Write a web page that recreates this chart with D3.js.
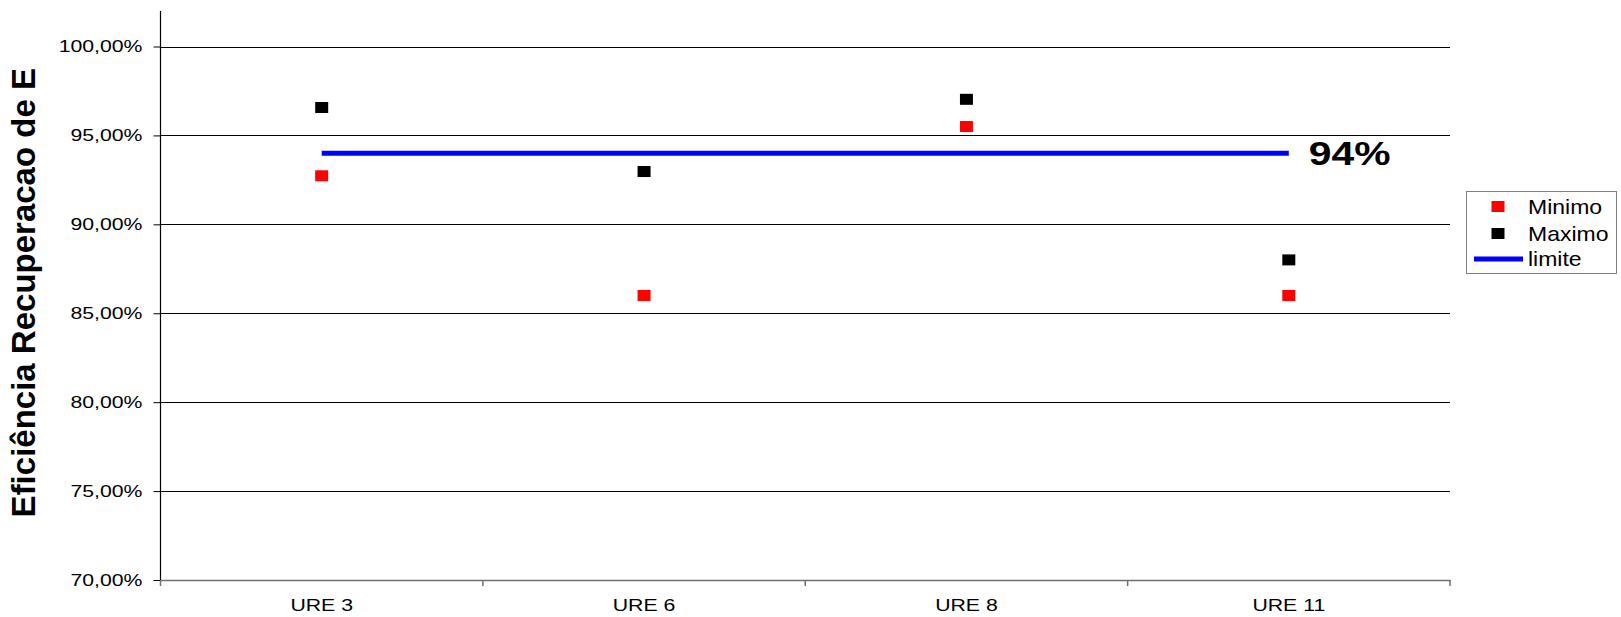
<!DOCTYPE html>
<html><head><meta charset="utf-8">
<script src="https://cdn.jsdelivr.net/npm/d3@7"></script>
<style>body{margin:0;background:#fff;} svg{display:block;font-family:"Liberation Sans",Arial,sans-serif;}</style>
</head><body>
<svg id="c" width="1621" height="617"></svg>
<script>
const categories = ["URE 3", "URE 6", "URE 8", "URE 11"];
const minimo = [0.9273, 0.86, 0.955, 0.86];
const maximo = [0.9657, 0.9297, 0.9703, 0.88];
const limite = 0.94;
const limiteLabel = "94%";
const yTicks = [0.70, 0.75, 0.80, 0.85, 0.90, 0.95, 1.00];
const seriesNames = ["Minimo", "Maximo", "limite"];

const svg = d3.select("#c");
const L = 160.5, R = 1450, T = 46.5, B = 580;
const SX = 1.25; // horizontal stretch of text seen in the reference
const x = d3.scaleBand().domain(categories).range([L, R]).padding(0);
const y = d3.scaleLinear().domain([0.70, 1.00]).range([B, T]);
const fmt = v => (v * 100).toFixed(2).replace(".", ",") + "%";
const cx = c => x(c) + x.bandwidth() / 2;

// gridlines
svg.append("g").selectAll("line").data(yTicks.filter(v => v > 0.70)).join("line")
  .attr("x1", L).attr("x2", R).attr("y1", d => Math.round(y(d)) + 0.5).attr("y2", d => Math.round(y(d)) + 0.5)
  .attr("stroke", "#000").attr("stroke-width", 1);

// y axis
const ya = svg.append("g").attr("transform", `translate(${L},0)`)
  .call(d3.axisLeft(y).tickValues(yTicks).tickFormat(fmt).tickSize(7).tickPadding(11));
ya.select(".domain").remove();
ya.selectAll("line").attr("stroke", "#000");
ya.selectAll("text").attr("font-size", 17).attr("fill", "#000")
  .attr("font-family", "Liberation Sans, Arial, sans-serif")
  .attr("x", -18 / SX).attr("transform", `scale(${SX},1)`);
svg.append("line").attr("x1", L).attr("x2", L).attr("y1", 11).attr("y2", B)
  .attr("stroke", "#000").attr("stroke-width", 1.2);

// x axis
const xa = svg.append("g").attr("transform", `translate(0,${B})`)
  .call(d3.axisBottom(x).tickSize(0));
xa.select(".domain").attr("stroke", "#707070").attr("stroke-width", 1.5);
xa.selectAll("text").attr("font-size", 17).attr("fill", "#000")
  .attr("font-family", "Liberation Sans, Arial, sans-serif")
  .attr("y", 31).attr("dy", 0).attr("transform", `scale(${SX},1)`);
const bounds = categories.map(c => x(c)).concat([R]);
svg.append("g").selectAll("line").data(bounds).join("line")
  .attr("x1", d => d).attr("x2", d => d).attr("y1", B).attr("y2", B + 6)
  .attr("stroke", "#707070").attr("stroke-width", 1.5);

// limit line
const xEnd = cx(categories[categories.length - 1]);
svg.append("line")
  .attr("x1", cx(categories[0])).attr("x2", xEnd)
  .attr("y1", y(limite)).attr("y2", y(limite))
  .attr("stroke", "#0000ff").attr("stroke-width", 5);
svg.append("text").attr("transform", `translate(${xEnd + 20},${y(limite) + 12}) scale(1.2,1)`)
  .attr("font-size", 34).attr("font-weight", "bold").attr("fill", "#000").text(limiteLabel);

// markers
const MW = 13, MH = 11;
function markers(data, color) {
  svg.append("g").selectAll("rect").data(data).join("rect")
    .attr("x", (d, i) => cx(categories[i]) - MW / 2).attr("y", d => y(d) - MH / 2)
    .attr("width", MW).attr("height", MH).attr("fill", color);
}
markers(minimo, "#ff0000");
markers(maximo, "#000000");

// y label
svg.append("text").attr("transform", "translate(35,68) rotate(-90)")
  .attr("text-anchor", "end").attr("font-size", 33).attr("font-weight", "bold").attr("fill", "#000")
  .text("Eficiência Recuperacao de E");

// legend
const lg = svg.append("g");
lg.append("rect").attr("x", 1466.5).attr("y", 191.5).attr("width", 150).attr("height", 82)
  .attr("fill", "#fff").attr("stroke", "#808080").attr("stroke-width", 1);
const ly = [206.5, 233.5, 259];
lg.append("rect").attr("x", 1498 - MW / 2).attr("y", ly[0] - MH / 2).attr("width", MW).attr("height", MH).attr("fill", "#ff0000");
lg.append("rect").attr("x", 1498 - MW / 2).attr("y", ly[1] - MH / 2).attr("width", MW).attr("height", MH).attr("fill", "#000");
lg.append("line").attr("x1", 1474).attr("x2", 1523).attr("y1", ly[2]).attr("y2", ly[2])
  .attr("stroke", "#0000ff").attr("stroke-width", 5);
lg.selectAll("text.l").data(seriesNames).join("text").attr("class", "l")
  .attr("transform", (d, i) => `translate(1528,${ly[i] + 7}) scale(1.15,1)`)
  .attr("font-size", 20).attr("fill", "#000").text(d => d);
</script>
</body></html>
